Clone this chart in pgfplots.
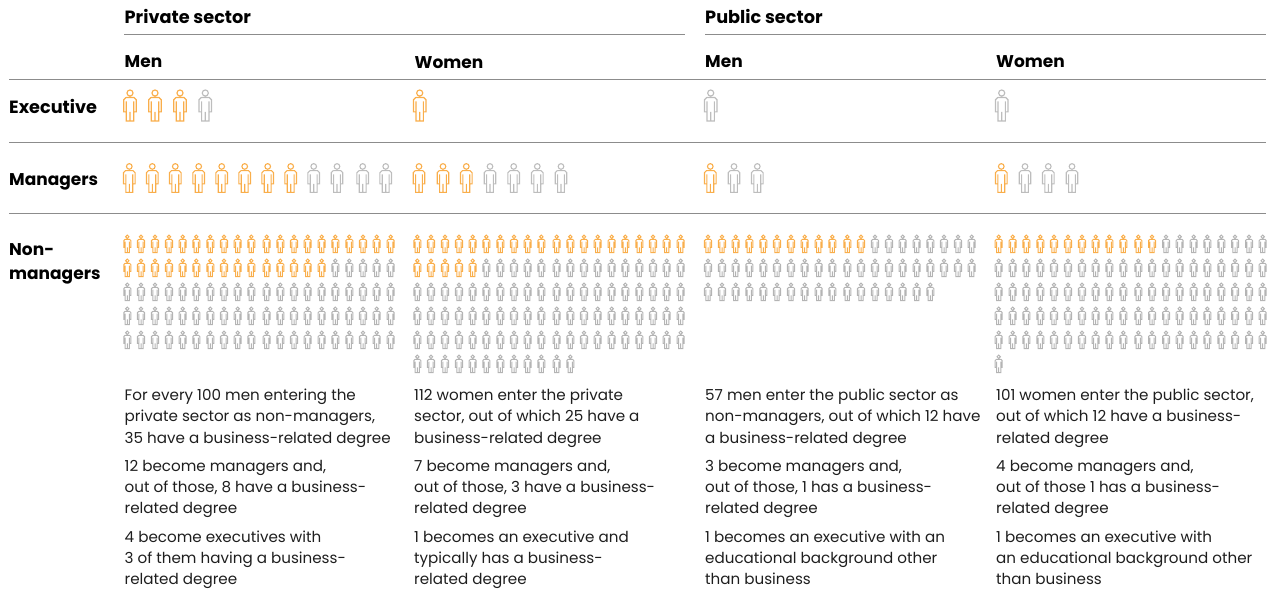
\documentclass[border=0pt]{standalone}
\usepackage{pgfplots}
\usepackage{fontspec}
\pgfplotsset{compat=1.18}
\setmainfont{Poppins}
\definecolor{org}{HTML}{F9AE4B}
\definecolor{gry}{HTML}{BDBDBD}
\definecolor{gry2}{HTML}{B4B4B4}
\definecolor{rul}{HTML}{8C8C8C}
\definecolor{txt}{HTML}{1E1E1E}
\pgfdeclareplotmark{person}{%
  \pgfpathcircle{\pgfqpoint{0pt}{0.78\pgfplotmarksize}}{0.19\pgfplotmarksize}%
  \pgfpathmoveto{\pgfqpoint{-0.25\pgfplotmarksize}{0.5\pgfplotmarksize}}%
  \pgfpathlineto{\pgfqpoint{0.25\pgfplotmarksize}{0.5\pgfplotmarksize}}%
  \pgfpathlineto{\pgfqpoint{0.39\pgfplotmarksize}{0.36\pgfplotmarksize}}%
  \pgfpathlineto{\pgfqpoint{0.39\pgfplotmarksize}{-0.4\pgfplotmarksize}}%
  \pgfpathlineto{\pgfqpoint{0.23\pgfplotmarksize}{-0.4\pgfplotmarksize}}%
  \pgfpathmoveto{\pgfqpoint{0.23\pgfplotmarksize}{0.25\pgfplotmarksize}}%
  \pgfpathlineto{\pgfqpoint{0.23\pgfplotmarksize}{-0.97\pgfplotmarksize}}%
  \pgfpathlineto{\pgfqpoint{-0.23\pgfplotmarksize}{-0.97\pgfplotmarksize}}%
  \pgfpathlineto{\pgfqpoint{-0.23\pgfplotmarksize}{0.25\pgfplotmarksize}}%
  \pgfpathmoveto{\pgfqpoint{-0.23\pgfplotmarksize}{-0.4\pgfplotmarksize}}%
  \pgfpathlineto{\pgfqpoint{-0.39\pgfplotmarksize}{-0.4\pgfplotmarksize}}%
  \pgfpathlineto{\pgfqpoint{-0.39\pgfplotmarksize}{0.36\pgfplotmarksize}}%
  \pgfpathlineto{\pgfqpoint{-0.25\pgfplotmarksize}{0.5\pgfplotmarksize}}%
  \pgfpathmoveto{\pgfqpoint{0pt}{-0.4\pgfplotmarksize}}%
  \pgfpathlineto{\pgfqpoint{0pt}{-0.97\pgfplotmarksize}}%
  \pgfusepathqstroke
}
\newcommand{\tl}[3]{\node[anchor=base west,inner sep=0pt,text=txt,font=\fontsize{15.15bp}{18bp}\selectfont] at (axis cs:#1,#2) {#3};}
\newcommand{\hd}[3]{\node[anchor=base west,inner sep=0pt,text=black,font=\fontsize{17bp}{20bp}\selectfont\bfseries] at (axis cs:#1,#2) {#3};}
\newcommand{\hs}[3]{\node[anchor=base west,inner sep=0pt,text=black,font=\fontsize{17.7bp}{20bp}\selectfont\bfseries] at (axis cs:#1,#2) {#3};}
\pgfplotsset{
  big/.style={only marks,mark=person,mark size=16bp,line width=1.15bp},
  mid/.style={only marks,mark=person,mark size=14.8bp,line width=1.1bp},
  sml/.style={only marks,mark=person,mark size=9bp,line width=1bp},
}
\begin{document}
\begin{tikzpicture}
\begin{axis}[hide axis,scale only axis,width=1275bp,height=590bp,xmin=0,xmax=1275,ymin=0,ymax=590,y dir=reverse,clip=false]
\path (axis cs:0,0) rectangle (axis cs:1275,590);
% rules
\addplot[rul,line width=1bp] coordinates {(124,34.5) (685,34.5)};
\addplot[rul,line width=1bp] coordinates {(705,34.5) (1266,34.5)};
\addplot[rul,line width=1bp] coordinates {(9,79.3) (1266,79.3)};
\addplot[rul,line width=1bp] coordinates {(9,142.3) (1266,142.3)};
\addplot[rul,line width=1bp] coordinates {(9,214) (1266,214)};
% executives
\addplot[org,big,mark options={org}] coordinates {(130,105.5) (155,105.5) (180,105.5) (419.7,105.5)};
\addplot[gry,big,mark options={gry}] coordinates {(205.3,105.5) (710.7,105.5) (1001.7,105.5)};
% managers
\addplot[org,mid,mark options={org}] coordinates {(129.3,178) (152.3,178) (175.3,178) (198.7,178) (221.7,178) (244.7,178) (267.7,178) (290.7,178) (419,178) (443,178) (466.3,178) (710.3,178) (1001.3,178)};
\addplot[gry,mid,mark options={gry}] coordinates {(313.7,178) (337,178) (362.7,178) (385.7,178) (490,178) (513.7,178) (537.3,178) (561,178) (734,178) (757.3,178) (1025,178) (1048.3,178) (1072,178)};
% non-managers, orange
\addplot[org,sml,mark options={org}] coordinates {
(127.3,243.8) (141,243.8) (155,243.8) (169,243.8) (182.7,243.8) (196.3,243.8) (210.3,243.8) (224,243.8) (237.7,243.8) (251.3,243.8) (266.7,243.8) (280.3,243.8) (294,243.8) (307.7,243.8) (321.7,243.8) (335.3,243.8) (349.3,243.8) (363,243.8) (376.7,243.8) (390.7,243.8)
(127.3,267.8) (141,267.8) (155,267.8) (169,267.8) (182.7,267.8) (196.3,267.8) (210.3,267.8) (224,267.8) (237.7,267.8) (251.3,267.8) (266.7,267.8) (280.3,267.8) (294,267.8) (307.7,267.8) (321.7,267.8)
(417.3,243.8) (431,243.8) (445,243.8) (459,243.8) (472.7,243.8) (486.3,243.8) (500.3,243.8) (514,243.8) (527.7,243.8) (541.3,243.8) (556.7,243.8) (570.3,243.8) (584,243.8) (597.7,243.8) (611.7,243.8) (625.3,243.8) (639.3,243.8) (653,243.8) (666.7,243.8) (680.7,243.8)
(417.3,267.8) (431,267.8) (445,267.8) (459,267.8) (472.7,267.8)
(708,243.8) (722,243.8) (735.7,243.8) (749.3,243.8) (763.3,243.8) (777,243.8) (791,243.8) (804.7,243.8) (818.7,243.8) (832.3,243.8) (847.3,243.8) (861,243.8)
(998.7,243.8) (1012.7,243.8) (1026.3,243.8) (1040.3,243.8) (1054,243.8) (1068,243.8) (1082,243.8) (1095.7,243.8) (1109.3,243.8) (1123.3,243.8) (1138.3,243.8) (1152,243.8)
};
% non-managers, grey
\addplot[gry2,sml,mark options={gry2}] coordinates {
(335.3,267.8) (349.3,267.8) (363,267.8) (376.7,267.8) (390.7,267.8)
(127.3,291.8) (141,291.8) (155,291.8) (169,291.8) (182.7,291.8) (196.3,291.8) (210.3,291.8) (224,291.8) (237.7,291.8) (251.3,291.8) (266.7,291.8) (280.3,291.8) (294,291.8) (307.7,291.8) (321.7,291.8) (335.3,291.8) (349.3,291.8) (363,291.8) (376.7,291.8) (390.7,291.8)
(127.3,315.8) (141,315.8) (155,315.8) (169,315.8) (182.7,315.8) (196.3,315.8) (210.3,315.8) (224,315.8) (237.7,315.8) (251.3,315.8) (266.7,315.8) (280.3,315.8) (294,315.8) (307.7,315.8) (321.7,315.8) (335.3,315.8) (349.3,315.8) (363,315.8) (376.7,315.8) (390.7,315.8)
(127.3,339.8) (141,339.8) (155,339.8) (169,339.8) (182.7,339.8) (196.3,339.8) (210.3,339.8) (224,339.8) (237.7,339.8) (251.3,339.8) (266.7,339.8) (280.3,339.8) (294,339.8) (307.7,339.8) (321.7,339.8) (335.3,339.8) (349.3,339.8) (363,339.8) (376.7,339.8) (390.7,339.8)
(486.3,267.8) (500.3,267.8) (514,267.8) (527.7,267.8) (541.3,267.8) (556.7,267.8) (570.3,267.8) (584,267.8) (597.7,267.8) (611.7,267.8) (625.3,267.8) (639.3,267.8) (653,267.8) (666.7,267.8) (680.7,267.8)
(417.3,291.8) (431,291.8) (445,291.8) (459,291.8) (472.7,291.8) (486.3,291.8) (500.3,291.8) (514,291.8) (527.7,291.8) (541.3,291.8) (556.7,291.8) (570.3,291.8) (584,291.8) (597.7,291.8) (611.7,291.8) (625.3,291.8) (639.3,291.8) (653,291.8) (666.7,291.8) (680.7,291.8)
(417.3,315.8) (431,315.8) (445,315.8) (459,315.8) (472.7,315.8) (486.3,315.8) (500.3,315.8) (514,315.8) (527.7,315.8) (541.3,315.8) (556.7,315.8) (570.3,315.8) (584,315.8) (597.7,315.8) (611.7,315.8) (625.3,315.8) (639.3,315.8) (653,315.8) (666.7,315.8) (680.7,315.8)
(417.3,339.8) (431,339.8) (445,339.8) (459,339.8) (472.7,339.8) (486.3,339.8) (500.3,339.8) (514,339.8) (527.7,339.8) (541.3,339.8) (556.7,339.8) (570.3,339.8) (584,339.8) (597.7,339.8) (611.7,339.8) (625.3,339.8) (639.3,339.8) (653,339.8) (666.7,339.8) (680.7,339.8)
(417.3,363.8) (431,363.8) (445,363.8) (459,363.8) (472.7,363.8) (486.3,363.8) (500.3,363.8) (514,363.8) (527.7,363.8) (541.3,363.8) (556.7,363.8) (570.3,363.8)
(875,243.8) (889,243.8) (902.7,243.8) (916.7,243.8) (930.3,243.8) (944,243.8) (958,243.8) (971.7,243.8)
(708,267.8) (722,267.8) (735.7,267.8) (749.3,267.8) (763.3,267.8) (777,267.8) (791,267.8) (804.7,267.8) (818.7,267.8) (832.3,267.8) (847.3,267.8) (861,267.8) (875,267.8) (889,267.8) (902.7,267.8) (916.7,267.8) (930.3,267.8) (944,267.8) (958,267.8) (971.7,267.8)
(708,291.8) (722,291.8) (735.7,291.8) (749.3,291.8) (763.3,291.8) (777,291.8) (791,291.8) (804.7,291.8) (818.7,291.8) (832.3,291.8) (847.3,291.8) (861,291.8) (875,291.8) (889,291.8) (902.7,291.8) (916.7,291.8) (930.3,291.8)
(1166,243.8) (1179.7,243.8) (1193.7,243.8) (1207.3,243.8) (1221.3,243.8) (1235,243.8) (1249,243.8) (1262.7,243.8)
(998.7,267.8) (1012.7,267.8) (1026.3,267.8) (1040.3,267.8) (1054,267.8) (1068,267.8) (1082,267.8) (1095.7,267.8) (1109.3,267.8) (1123.3,267.8) (1138.3,267.8) (1152,267.8) (1166,267.8) (1179.7,267.8) (1193.7,267.8) (1207.3,267.8) (1221.3,267.8) (1235,267.8) (1249,267.8) (1262.7,267.8)
(998.7,291.8) (1012.7,291.8) (1026.3,291.8) (1040.3,291.8) (1054,291.8) (1068,291.8) (1082,291.8) (1095.7,291.8) (1109.3,291.8) (1123.3,291.8) (1138.3,291.8) (1152,291.8) (1166,291.8) (1179.7,291.8) (1193.7,291.8) (1207.3,291.8) (1221.3,291.8) (1235,291.8) (1249,291.8) (1262.7,291.8)
(998.7,315.8) (1012.7,315.8) (1026.3,315.8) (1040.3,315.8) (1054,315.8) (1068,315.8) (1082,315.8) (1095.7,315.8) (1109.3,315.8) (1123.3,315.8) (1138.3,315.8) (1152,315.8) (1166,315.8) (1179.7,315.8) (1193.7,315.8) (1207.3,315.8) (1221.3,315.8) (1235,315.8) (1249,315.8) (1262.7,315.8)
(998.7,339.8) (1012.7,339.8) (1026.3,339.8) (1040.3,339.8) (1054,339.8) (1068,339.8) (1082,339.8) (1095.7,339.8) (1109.3,339.8) (1123.3,339.8) (1138.3,339.8) (1152,339.8) (1166,339.8) (1179.7,339.8) (1193.7,339.8) (1207.3,339.8) (1221.3,339.8) (1235,339.8) (1249,339.8) (1262.7,339.8)
(998.7,363.8)
};
% headings
\hs{124.5}{23.5}{Private sector}
\hs{705}{23.5}{Public sector}
\hd{124.5}{67.7}{Men}
\hd{414.5}{69}{Women}
\hd{705}{67.7}{Men}
\hd{996}{67.7}{Women}
\hs{9}{114}{Executive}
\hd{9}{185.5}{Managers}
\hd{9}{256}{Non-}
\hd{9}{280}{managers}
% column 1
\tl{124.5}{400.5}{For every 100 men entering the}
\tl{124.5}{421.5}{private sector as non-managers,}
\tl{124.5}{443}{35 have a business-related degree}
\tl{124.5}{471}{12 become managers and,}
\tl{124.5}{492.5}{out of those, 8 have a business-}
\tl{124.5}{513}{related degree}
\tl{124.5}{542}{4 become executives with}
\tl{124.5}{563.5}{3 of them having a business-}
\tl{124.5}{584}{related degree}
% column 2
\tl{414}{400.5}{112 women enter the private}
\tl{414}{421.5}{sector, out of which 25 have a}
\tl{414}{443}{business-related degree}
\tl{414}{471}{7 become managers and,}
\tl{414}{492.5}{out of those, 3 have a business-}
\tl{414}{513}{related degree}
\tl{414}{542}{1 becomes an executive and}
\tl{414}{563.5}{typically has a business-}
\tl{414}{584}{related degree}
% column 3
\tl{705}{400.5}{57 men enter the public sector as}
\tl{705}{421.5}{non-managers, out of which 12 have}
\tl{705}{443}{a business-related degree}
\tl{705}{471}{3 become managers and,}
\tl{705}{492.5}{out of those, 1 has a business-}
\tl{705}{513}{related degree}
\tl{705}{542}{1 becomes an executive with an}
\tl{705}{563.5}{educational background other}
\tl{705}{584}{than business}
% column 4
\tl{996}{400.5}{101 women enter the public sector,}
\tl{996}{421.5}{out of which 12 have a business-}
\tl{996}{443}{related degree}
\tl{996}{471}{4 become managers and,}
\tl{996}{492.5}{out of those 1 has a business-}
\tl{996}{513}{related degree}
\tl{996}{542}{1 becomes an executive with}
\tl{996}{563.5}{an educational background other}
\tl{996}{584}{than business}
\end{axis}
\end{tikzpicture}
\end{document}
